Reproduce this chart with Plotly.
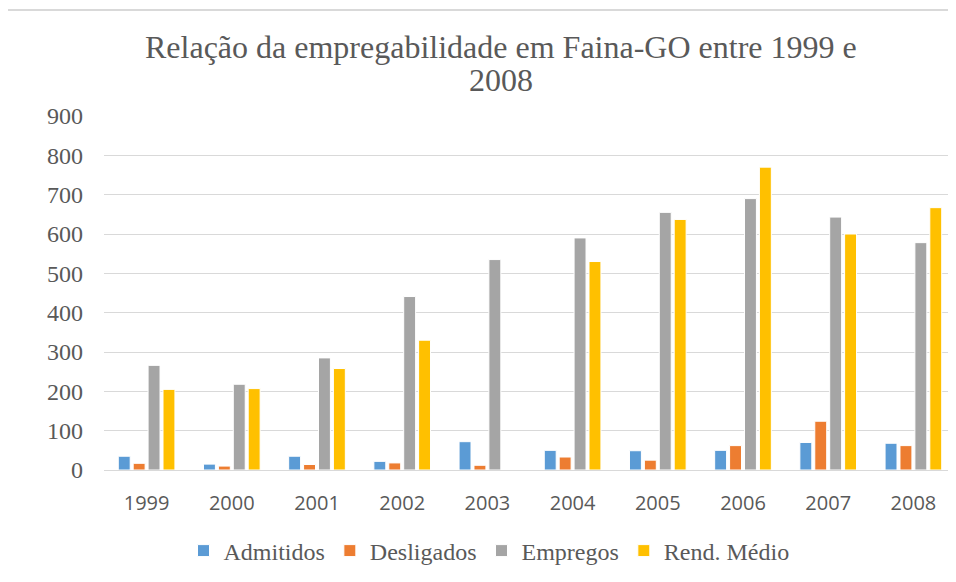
import plotly.graph_objects as go

# values
anos = ["1999", "2000", "2001", "2002", "2003", "2004", "2005", "2006", "2007", "2008"]
admitidos = [35, 15, 35, 22, 72, 50, 49, 50, 70, 68]
desligados = [17, 10, 14, 18, 12, 33, 25, 62, 124, 62]
empregos = [266, 218, 285, 441, 535, 590, 655, 690, 643, 578]
rend_medio = [205, 207, 258, 330, None, 530, 637, 770, 600, 667]
titulo = ["Relação da empregabilidade em Faina-GO entre 1999 e", "2008"]

series = [
    ("Admitidos", admitidos, "#5B9BD5"),
    ("Desligados", desligados, "#ED7D31"),
    ("Empregos", empregos, "#A5A5A5"),
    ("Rend. Médio", rend_medio, "#FFC000"),
]

# page body has an 8px margin, so the figure is 8px smaller than the window
W, H = 948, 574
ML, MR, MT, MB = 96, 0, 108, 112
plot_w = W - ML - MR
plot_h = H - MT - MB


def px_x(x):
    return (x - ML) / plot_w


def px_y(y):
    return (H - MB - y) / plot_h


SERIF = "Liberation Serif"
gray = "#595959"

fig = go.Figure()
for name, vals, color in series:
    fig.add_trace(go.Bar(
        x=anos, y=vals, name=name,
        marker=dict(color=color, line=dict(color="white", width=1)),
    ))

# light frame of the chart area
fig.add_shape(
    type="rect", xref="paper", yref="paper",
    x0=px_x(-3), x1=px_x(W + 20),
    y0=px_y(H + 20), y1=px_y(2),
    line=dict(color="#D9D9D9", width=2), fillcolor="rgba(0,0,0,0)",
    layer="below",
)

# two-line title as annotations (tighter line spacing than plotly's title)
for line, yc in zip(titulo, [39, 72]):
    fig.add_annotation(
        text=line, xref="paper", yref="paper",
        x=px_x(493), y=px_y(yc), xanchor="center", yanchor="middle",
        showarrow=False,
        font=dict(family=SERIF, size=32, color=gray),
    )

fig.update_layout(
    width=W, height=H,
    margin=dict(l=ML, r=MR, t=MT, b=MB),
    paper_bgcolor="white", plot_bgcolor="white",
    barmode="group", bargap=0.3, bargroupgap=0.2,
    xaxis=dict(
        showgrid=False, showline=True, linecolor="#D9D9D9", linewidth=1,
        tickfont=dict(family="Open Sans", size=20, color=gray),
        ticklabelstandoff=15,
    ),
    yaxis=dict(
        range=[0, 900], dtick=100, tick0=0,
        showgrid=True, gridcolor="#D9D9D9", gridwidth=1,
        zeroline=True, zerolinecolor="#D9D9D9", zerolinewidth=1,
        tickfont=dict(family=SERIF, size=24, color=gray),
        ticklabelstandoff=20,
    ),
    legend=dict(
        orientation="h", x=px_x(481), xanchor="center",
        y=px_y(543), yanchor="middle",
        font=dict(family=SERIF, size=24, color=gray),
        bgcolor="rgba(0,0,0,0)",
    ),
    showlegend=True,
)

fig.write_html("out.html")
